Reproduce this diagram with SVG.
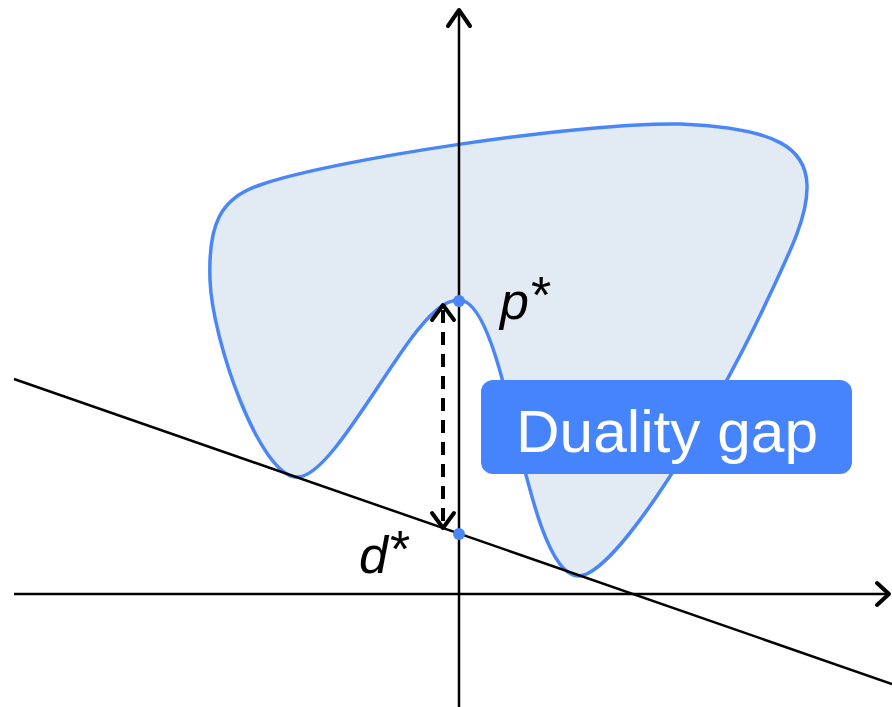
<svg xmlns="http://www.w3.org/2000/svg" width="892" height="707" viewBox="0 0 892 707">
<style>
.ax{stroke:#000;stroke-width:2.5;fill:none}
.head{stroke:#000;stroke-width:4;fill:none;stroke-linecap:round;stroke-linejoin:round}
.lbl{font-family:"Liberation Sans",Arial,sans-serif;font-size:52px;fill:#000}
.dot{fill:#4a86f7}
</style>
<rect width="892" height="707" fill="#fff"/>
<g id="region">
<path d="M 297 477 C 325 478 370 395 410 340 C 430 313 445 300 459 300 C 475 300 490 330 505 390 C 525 470 545 575 578 576 C 615 577 712 418 765 305 C 792 248 808 215 807 185 C 806 150 780 128 680 124 C 580 122 330 160 260 185 C 220 198 208 225 210 280 C 212 340 260 477 297 477 Z" fill="#e2eaf4" stroke="#4a86f7" stroke-width="3.5"/>
</g>
<g id="connectors">
<line class="ax" x1="459" y1="9" x2="459" y2="707"/>
<polyline class="head" points="448,26 459,10 470,26"/>
<line class="ax" x1="14" y1="594" x2="889" y2="594"/>
<polyline class="head" points="877,583 889,594 877,605"/>
<line class="ax" x1="14" y1="379" x2="892" y2="684"/>
<line x1="443" y1="310" x2="443" y2="524" stroke="#000" stroke-width="4" stroke-dasharray="13,9"/>
<polyline class="head" points="432,320 443,305 454,320"/>
<polyline class="head" points="432,513 443,528 454,513"/>
</g>
<g id="pstar">
<circle class="dot" cx="459" cy="301" r="6"/>
<text class="lbl" x="500" y="319"><tspan font-style="italic">p</tspan><tspan dx="2" dy="-6">*</tspan></text>
</g>
<g id="dstar">
<circle class="dot" cx="459" cy="534" r="6"/>
<text class="lbl" x="359" y="573"><tspan font-style="italic">d</tspan><tspan dx="2" dy="-6">*</tspan></text>
</g>
<g id="gap">
<rect x="481" y="380" width="371" height="94" rx="12" fill="#4684fd"/>
<text x="667" y="452" text-anchor="middle" font-family="Liberation Sans,Arial,sans-serif" font-size="60" textLength="302" lengthAdjust="spacingAndGlyphs" fill="#fff">Duality gap</text>
</g>
</svg>
